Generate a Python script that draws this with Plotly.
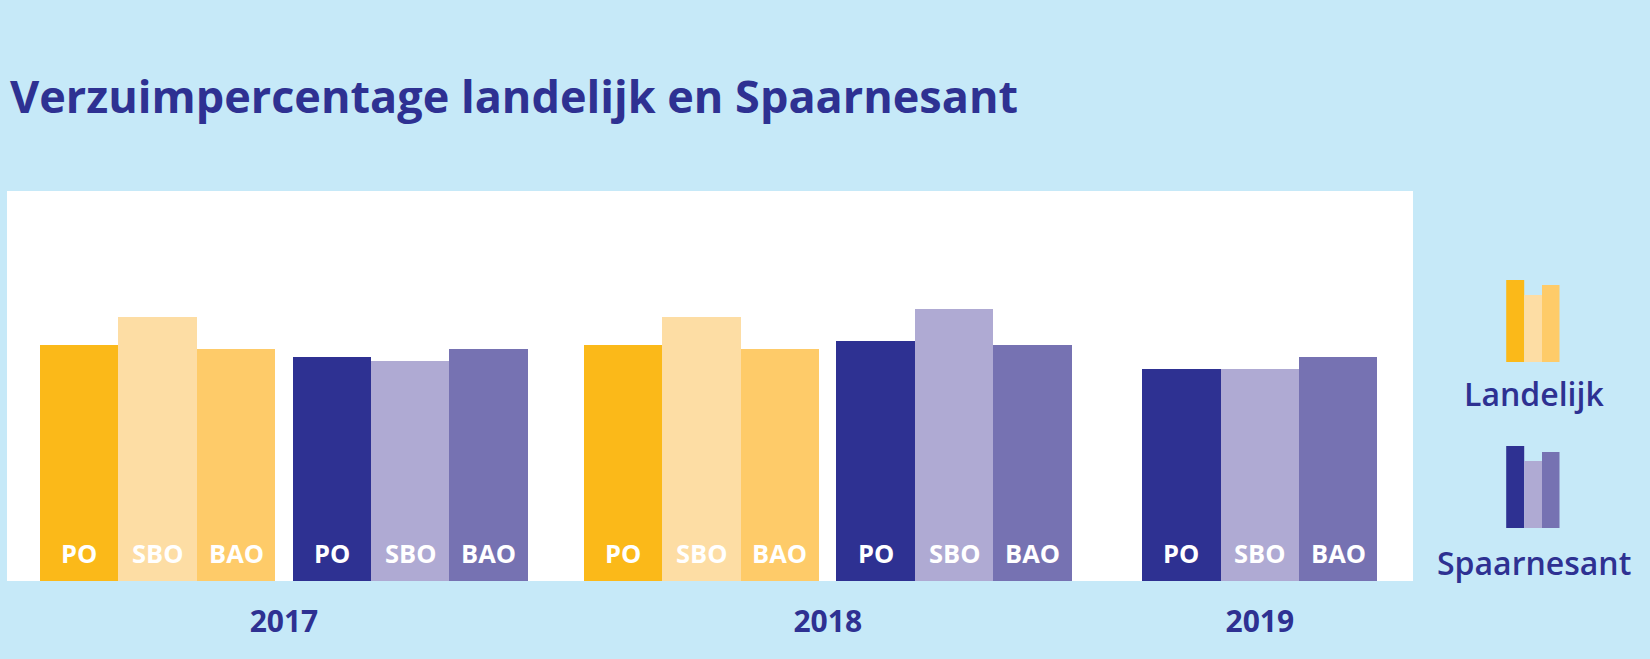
import plotly.graph_objects as go

# ---------------- data ----------------
years = ["2017", "2018", "2019"]
types = ["PO", "SBO", "BAO"]
landelijk = {"2017": [5.9, 6.6, 5.8], "2018": [5.9, 6.6, 5.8], "2019": None}
spaarnesant = {"2017": [5.6, 5.5, 5.8], "2018": [6.0, 6.8, 5.9], "2019": [5.3, 5.3, 5.6]}
series_names = ["Landelijk", "Spaarnesant"]

# ---------------- style ----------------
NAVY = "#2E3192"
BG = "#C6E9F8"
colors = {
    "Landelijk": ["#FBB919", "#FDDDA4", "#FECB69"],
    "Spaarnesant": ["#2E3192", "#AFAAD3", "#7672B2"],
}
FONT = "Open Sans"

W, H = 1650, 659
ML, MR, MT, MB = 7, 237, 191, 78
PW = W - ML - MR
PH = H - MT - MB
UNIT_PX = 78.4
X_START = 0.421
PAIR_GAP = 0.223
YEAR_GAPS = [0.713, 0.90]
Y_MAX = 9.75


def px2paper_x(px):
    return (px - ML) / PW


def px2paper_y(py):
    return (H - MB - py) / PH


fig = go.Figure()
annotations = []
tickvals = []
pos = X_START
for yi, yr in enumerate(years):
    block_start = pos
    groups = []
    if landelijk[yr] is not None:
        groups.append(("Landelijk", landelijk[yr]))
    groups.append(("Spaarnesant", spaarnesant[yr]))
    for gi, (name, vals) in enumerate(groups):
        if gi > 0:
            pos += PAIR_GAP
        xs = [pos + i + 0.5 for i in range(len(vals))]
        fig.add_trace(go.Bar(
            x=xs, y=vals, width=[1.0] * len(vals),
            marker=dict(color=colors[name], line=dict(width=0)),
            name=name, showlegend=False, hoverinfo="x+y",
        ))
        for x, t in zip(xs, types):
            annotations.append(dict(
                x=x, y=0, xref="x", yref="y", text="<b>%s</b>" % t,
                showarrow=False, yanchor="middle", yshift=28,
                font=dict(family=FONT, size=25.5, color="white"),
            ))
        pos += len(vals)
    tickvals.append((block_start + pos) / 2)
    if yi < len(YEAR_GAPS):
        pos += YEAR_GAPS[yi]

x_max = PW / UNIT_PX

# title
annotations.append(dict(
    x=px2paper_x(8), y=px2paper_y(96), xref="paper", yref="paper",
    xanchor="left", yanchor="middle", showarrow=False,
    text="<b>Verzuimpercentage landelijk en Spaarnesant</b>",
    font=dict(family=FONT, size=45, color=NAVY),
))

# legend icons (decorative) + labels
shapes = []
legend_specs = [
    ("Landelijk", [280, 295, 285], 362, 393),
    ("Spaarnesant", [446, 461, 452], 528, 562),
]
icon_x = [1506.2, 1524.2, 1542, 1559.5]
for name, tops, bottom, label_y in legend_specs:
    for i in range(3):
        shapes.append(dict(
            type="rect", xref="paper", yref="paper",
            x0=px2paper_x(icon_x[i]), x1=px2paper_x(icon_x[i + 1]),
            y0=px2paper_y(bottom), y1=px2paper_y(tops[i]),
            fillcolor=colors[name][i], line=dict(width=0), layer="above",
        ))
    annotations.append(dict(
        x=px2paper_x(1533.5), y=px2paper_y(label_y), xref="paper", yref="paper",
        xanchor="center", yanchor="middle", showarrow=False, text=name,
        font=dict(family=FONT, size=32, color=NAVY, weight=600),
    ))

fig.update_layout(
    width=W, height=H,
    margin=dict(l=ML, r=MR, t=MT, b=MB, pad=0),
    paper_bgcolor=BG, plot_bgcolor="white",
    barmode="overlay", bargap=0,
    xaxis=dict(
        range=[0, x_max], showgrid=False, zeroline=False, showline=False,
        tickmode="array", tickvals=tickvals,
        ticktext=["<b>%s</b>" % y for y in years],
        ticks="outside", ticklen=14, tickcolor="rgba(0,0,0,0)",
        tickfont=dict(family=FONT, size=30, color=NAVY), fixedrange=True,
    ),
    yaxis=dict(range=[0, Y_MAX], visible=False, fixedrange=True),
    annotations=annotations, shapes=shapes,
)

fig.write_html(
    "out.html",
    config={"displayModeBar": False},
    post_script="document.body.style.margin='0px';document.body.style.overflow='hidden';",
)
